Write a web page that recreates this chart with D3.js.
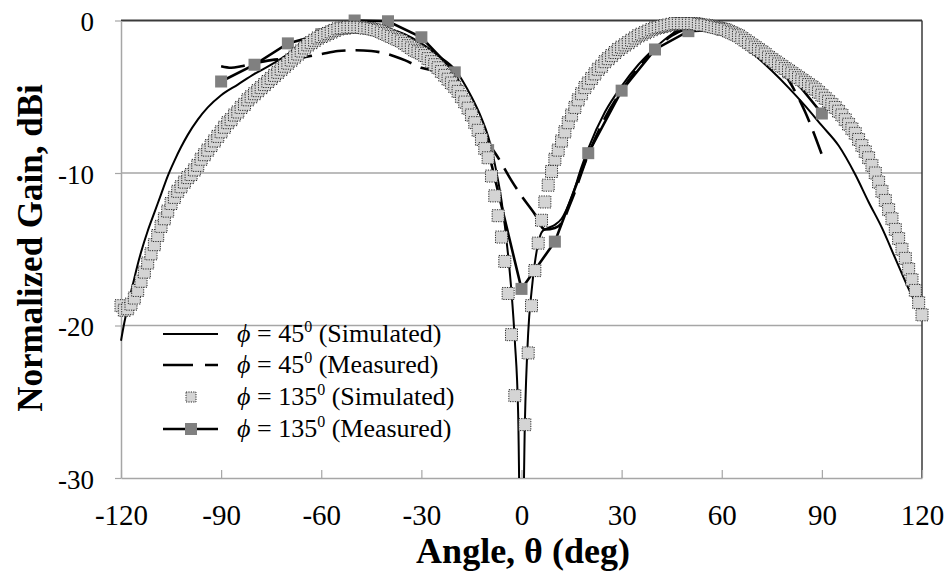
<!DOCTYPE html>
<html><head><meta charset="utf-8">
<script src="https://cdn.jsdelivr.net/npm/d3@7"></script>
<style>
body{margin:0;background:#fff}
svg{display:block}
text{font-family:"Liberation Serif","Times New Roman",serif;fill:#000}
</style>
</head><body>
<svg id="c" width="951" height="586"></svg>
<script>
// ---- data ----
const xTicks = [-120,-90,-60,-30,0,30,60,90,120];
const yTicks = [0,-10,-20,-30];
const legendLabels = [
  {num:"45", txt:"(Simulated)"},
  {num:"45", txt:"(Measured)"},
  {num:"135", txt:"(Simulated)"},
  {num:"135", txt:"(Measured)"}
];

// phi = 45 deg, simulated (solid line)
const sim45Angle = [-120,-119,-118,-117,-116,-115,-114,-112,-110,-108,-106,-104,-102,-100,-97,-94,-90,
  -85,-80,-75,-70,-65,-60,-55,-50,-45,-40,-35,-30,-25,-20,-15,-12,-10,-8,-6,-4,-3,-2,-1,0,
  1,2,3,4,5,6,7,8,10,12,15,18,20,25,30,35,40,45,50,55,60,65,70,75,80,85,90,95,100,104,108,112,116,120];
const sim45Gain = [-21.0,-19.8,-18.8,-17.8,-16.9,-16.0,-15.2,-13.8,-12.6,-11.4,-10.2,-9.2,-8.3,-7.5,-6.5,-5.7,-4.9,
  -4.2,-3.5,-2.9,-2.2,-1.3,-0.6,-0.2,-0.1,-0.2,-0.5,-0.9,-1.5,-2.3,-3.2,-5.0,-6.4,-7.6,-9.4,-11.8,-15.4,-17.8,-21.0,-25.8,-40,
  -26.5,-20.5,-17.8,-15.9,-14.6,-13.9,-13.7,-13.6,-13.4,-13.0,-11.6,-9.6,-8.4,-6.0,-4.3,-2.9,-1.8,-0.9,-0.3,-0.2,-0.7,-1.4,-2.3,-3.3,-4.4,-5.6,-6.9,-8.2,-10.1,-11.9,-13.6,-15.6,-17.6,-19.3];

// phi = 45 deg, measured (dashed line)
const meas45Angle = [-90,-87,-84,-80,-75,-70,-65,-60,-55,-50,-45,-40,-35,-30,-25,-20,-15,-10,
  -7,-3,0,4,7,10,12,15,20,25,30,35,40,45,50,55,60,65,70,75,80,85,90];
const meas45Gain = [-3.0,-3.1,-3.0,-2.8,-2.6,-2.5,-2.4,-2.2,-2.0,-1.95,-2.0,-2.2,-2.6,-3.1,-3.4,-4.35,-6.0,-8.0,
  -9.0,-10.5,-11.5,-12.7,-13.7,-13.6,-13.3,-11.8,-8.8,-6.4,-4.6,-3.1,-1.9,-1.0,-0.5,-0.3,-0.4,-0.7,-1.4,-2.5,-3.9,-6.0,-8.8];

// phi = 135 deg, simulated (dotted square markers, every degree)
const sim135Angle = [
  -120,-119,-118,-117,-116,-115,-114,-113,-112,-111,
  -110,-109,-108,-107,-106,-105,-104,-103,-102,-101,
  -100,-99,-98,-97,-96,-95,-94,-93,-92,-91,
  -90,-89,-88,-87,-86,-85,-84,-83,-82,-81,
  -80,-79,-78,-77,-76,-75,-74,-73,-72,-71,
  -70,-69,-68,-67,-66,-65,-64,-63,-62,-61,
  -60,-59,-58,-57,-56,-55,-54,-53,-52,-51,
  -50,-49,-48,-47,-46,-45,-44,-43,-42,-41,
  -40,-39,-38,-37,-36,-35,-34,-33,-32,-31,
  -30,-29,-28,-27,-26,-25,-24,-23,-22,-21,
  -20,-19,-18,-17,-16,-15,-14,-13,-12,-11,
  -10,-9,-8,-7,-6,-5,-4,-3,-2,-1,
  0,1,2,3,4,5,6,7,8,9,
  10,11,12,13,14,15,16,17,18,19,
  20,21,22,23,24,25,26,27,28,29,
  30,31,32,33,34,35,36,37,38,39,
  40,41,42,43,44,45,46,47,48,49,
  50,51,52,53,54,55,56,57,58,59,
  60,61,62,63,64,65,66,67,68,69,
  70,71,72,73,74,75,76,77,78,79,
  80,81,82,83,84,85,86,87,88,89,
  90,91,92,93,94,95,96,97,98,99,
  100,101,102,103,104,105,106,107,108,109,
  110,111,112,113,114,115,116,117,118,119,
  120];
const sim135Gain = [
  -18.7,-19.0,-18.9,-18.6,-18.2,-17.7,-17.1,-16.5,-15.9,-15.3,
  -14.7,-14.1,-13.5,-13.0,-12.5,-12.0,-11.6,-11.2,-10.9,-10.6,
  -10.3,-10.1,-9.8,-9.5,-9.1,-8.8,-8.5,-8.2,-7.9,-7.6,
  -7.3,-7.0,-6.7,-6.5,-6.2,-6.0,-5.7,-5.5,-5.2,-5.0,
  -4.8,-4.6,-4.4,-4.2,-4.0,-3.8,-3.6,-3.4,-3.2,-3.0,
  -2.8,-2.6,-2.4,-2.2,-2.0,-1.8,-1.6,-1.45,-1.3,-1.15,
  -1.05,-0.95,-0.85,-0.75,-0.65,-0.55,-0.5,-0.5,-0.45,-0.45,
  -0.45,-0.45,-0.45,-0.5,-0.5,-0.55,-0.6,-0.65,-0.75,-0.85,
  -0.95,-1.05,-1.15,-1.25,-1.35,-1.5,-1.65,-1.8,-1.95,-2.05,
  -2.15,-2.3,-2.5,-2.7,-2.9,-3.1,-3.35,-3.6,-3.85,-4.1,
  -4.35,-4.65,-5.0,-5.35,-5.75,-6.2,-6.7,-7.2,-7.8,-8.4,
  -9.0,-10.2,-11.5,-12.8,-14.2,-15.8,-17.9,-20.6,-24.6,-31.5,
  -38,-26.5,-21.8,-18.7,-16.4,-14.6,-13.1,-11.9,-10.8,-9.9,
  -9.1,-8.5,-7.9,-7.3,-6.7,-6.2,-5.7,-5.2,-4.8,-4.4,
  -4.1,-3.8,-3.5,-3.2,-3.0,-2.7,-2.5,-2.3,-2.1,-1.9,
  -1.75,-1.6,-1.45,-1.3,-1.15,-1.0,-0.9,-0.8,-0.7,-0.6,
  -0.5,-0.45,-0.4,-0.35,-0.3,-0.25,-0.2,-0.2,-0.2,-0.2,
  -0.2,-0.2,-0.2,-0.25,-0.3,-0.3,-0.35,-0.4,-0.45,-0.5,
  -0.55,-0.6,-0.7,-0.8,-0.9,-1.0,-1.15,-1.3,-1.45,-1.6,
  -1.75,-1.9,-2.05,-2.2,-2.4,-2.55,-2.7,-2.85,-3.0,-3.15,
  -3.3,-3.45,-3.6,-3.75,-3.9,-4.05,-4.2,-4.35,-4.5,-4.7,
  -4.9,-5.1,-5.3,-5.5,-5.7,-5.95,-6.2,-6.5,-6.8,-7.1,
  -7.4,-7.8,-8.2,-8.6,-9.0,-9.5,-10.0,-10.6,-11.2,-11.8,
  -12.4,-13.0,-13.7,-14.3,-15.0,-15.6,-16.3,-17.0,-17.7,-18.5,
  -19.3];

// phi = 135 deg, measured (line + gray squares)
const meas135Angle = [-90,-80,-70,-60,-50,-40,-30,-20,-10,0,10,20,30,40,50,60,70,80,90];
const meas135Gain  = [-4.0,-2.9,-1.5,-0.9,0,-0.05,-1.1,-3.4,-8.5,-17.6,-14.5,-8.7,-4.6,-1.9,-0.7,-0.6,-1.8,-3.4,-6.1];

// ---- chart ----
const svg = d3.select("#c");
const x = d3.scaleLinear().domain([-120,120]).range([121,922]);
const y = d3.scaleLinear().domain([-30,0]).range([478,20.5]);
const serif = "Liberation Serif, Times New Roman, serif";

svg.append("defs").append("clipPath").attr("id","clip")
  .append("rect").attr("x",0).attr("y",0).attr("width",951).attr("height",y(-30));

// gridlines
svg.append("g").selectAll("line").data(yTicks.filter(v=>v!==0 && v!==-30)).join("line")
  .attr("x1",x(-120)).attr("x2",x(120))
  .attr("y1",d=>y(d)).attr("y2",d=>y(d))
  .attr("stroke","#a6a6a6").attr("stroke-width",1.5);

// top & right border
svg.append("line").attr("x1",x(-120)).attr("x2",x(120)).attr("y1",y(0)).attr("y2",y(0))
  .attr("stroke","#3a3a3a").attr("stroke-width",2);
svg.append("line").attr("x1",x(120)).attr("x2",x(120)).attr("y1",y(0)).attr("y2",y(-30))
  .attr("stroke","#3a3a3a").attr("stroke-width",1.5);

// axes
const xAxis = d3.axisBottom(x).tickValues(xTicks).tickSizeInner(-8).tickSizeOuter(0).tickPadding(26)
  .tickFormat(d => String(d));
const gx = svg.append("g").attr("transform",`translate(0,${y(-30)})`).call(xAxis);
gx.select(".domain").attr("stroke","#a6a6a6").attr("stroke-width",1.5);
gx.selectAll(".tick line").attr("stroke","#a6a6a6").attr("stroke-width",1.2);
gx.selectAll("text").attr("font-size",29).attr("font-family",serif).attr("fill","#000");

const yAxis = d3.axisLeft(y).tickValues(yTicks).tickSizeInner(6).tickSizeOuter(0).tickPadding(21)
  .tickFormat(d => String(d));
const gy = svg.append("g").attr("transform",`translate(${x(-120)},0)`).call(yAxis);
gy.select(".domain").attr("stroke","#a6a6a6").attr("stroke-width",1.5);
gy.selectAll(".tick line").attr("stroke","#a6a6a6").attr("stroke-width",1.2);
gy.selectAll("text").attr("font-size",27).attr("dy","0.38em").attr("font-family",serif).attr("fill","#000");

// axis titles
svg.append("text").attr("x",523).attr("y",563).attr("text-anchor","middle")
  .attr("font-size",36).attr("font-weight","bold").text("Angle, θ (deg)");
svg.append("text").attr("transform","translate(42,248) rotate(-90)").attr("text-anchor","middle")
  .attr("font-size",35).attr("font-weight","bold").text("Normalized Gain, dBi");

// series
const plot = svg.append("g").attr("clip-path","url(#clip)");
const smooth = d3.line().x(d=>x(d[0])).y(d=>y(d[1])).curve(d3.curveMonotoneX);
const straight = d3.line().x(d=>x(d[0])).y(d=>y(d[1]));

plot.append("path").datum(d3.zip(sim45Angle, sim45Gain)).attr("d",smooth)
  .attr("fill","none").attr("stroke","#000").attr("stroke-width",2);
plot.append("path").datum(d3.zip(meas45Angle, meas45Gain)).attr("d",smooth)
  .attr("fill","none").attr("stroke","#000").attr("stroke-width",2.6).attr("stroke-dasharray","24,10");

const m135 = d3.zip(meas135Angle, meas135Gain);
plot.append("path").datum(m135).attr("d",straight)
  .attr("fill","none").attr("stroke","#000").attr("stroke-width",2.6);
const mm = 12;
plot.append("g").selectAll("rect").data(m135).join("rect")
  .attr("x",d=>x(d[0])-mm/2).attr("y",d=>y(d[1])-mm/2).attr("width",mm).attr("height",mm)
  .attr("fill","#808080");

const ms = 12;
plot.append("g").selectAll("rect").data(d3.zip(sim135Angle, sim135Gain)).join("rect")
  .attr("x",d=>x(d[0])-ms/2).attr("y",d=>y(d[1])-ms/2).attr("width",ms).attr("height",ms)
  .attr("fill","#d4d4d4").attr("stroke","#2a2a2a").attr("stroke-width",1).attr("stroke-dasharray","1.2,1.2");

// legend
const rowsY = [334,365,397,429];
const lg = svg.append("g");
lg.append("line").attr("x1",163).attr("x2",218).attr("y1",rowsY[0]).attr("y2",rowsY[0])
  .attr("stroke","#000").attr("stroke-width",2);
lg.append("line").attr("x1",163).attr("x2",218).attr("y1",rowsY[1]).attr("y2",rowsY[1])
  .attr("stroke","#000").attr("stroke-width",2.6).attr("stroke-dasharray","30,12");
lg.append("rect").attr("x",191-5).attr("y",rowsY[2]-5).attr("width",10).attr("height",10)
  .attr("fill","#d4d4d4").attr("stroke","#2a2a2a").attr("stroke-width",1).attr("stroke-dasharray","1.2,1.2");
lg.append("line").attr("x1",163).attr("x2",218).attr("y1",rowsY[3]).attr("y2",rowsY[3])
  .attr("stroke","#000").attr("stroke-width",2.6);
lg.append("rect").attr("x",191-mm/2).attr("y",rowsY[3]-mm/2).attr("width",mm).attr("height",mm)
  .attr("fill","#808080");

legendLabels.forEach((l,i)=>{
  const t = lg.append("text").attr("x",237).attr("y",rowsY[i]+8).attr("font-size",26);
  t.append("tspan").attr("font-style","italic").text("ϕ");
  t.append("tspan").text(" = " + l.num);
  t.append("tspan").attr("font-size",16).attr("dy",-10).text("0");
  t.append("tspan").attr("dy",10).text((l.num==="45" ? "  " : " ") + l.txt);
});
</script>
</body></html>
